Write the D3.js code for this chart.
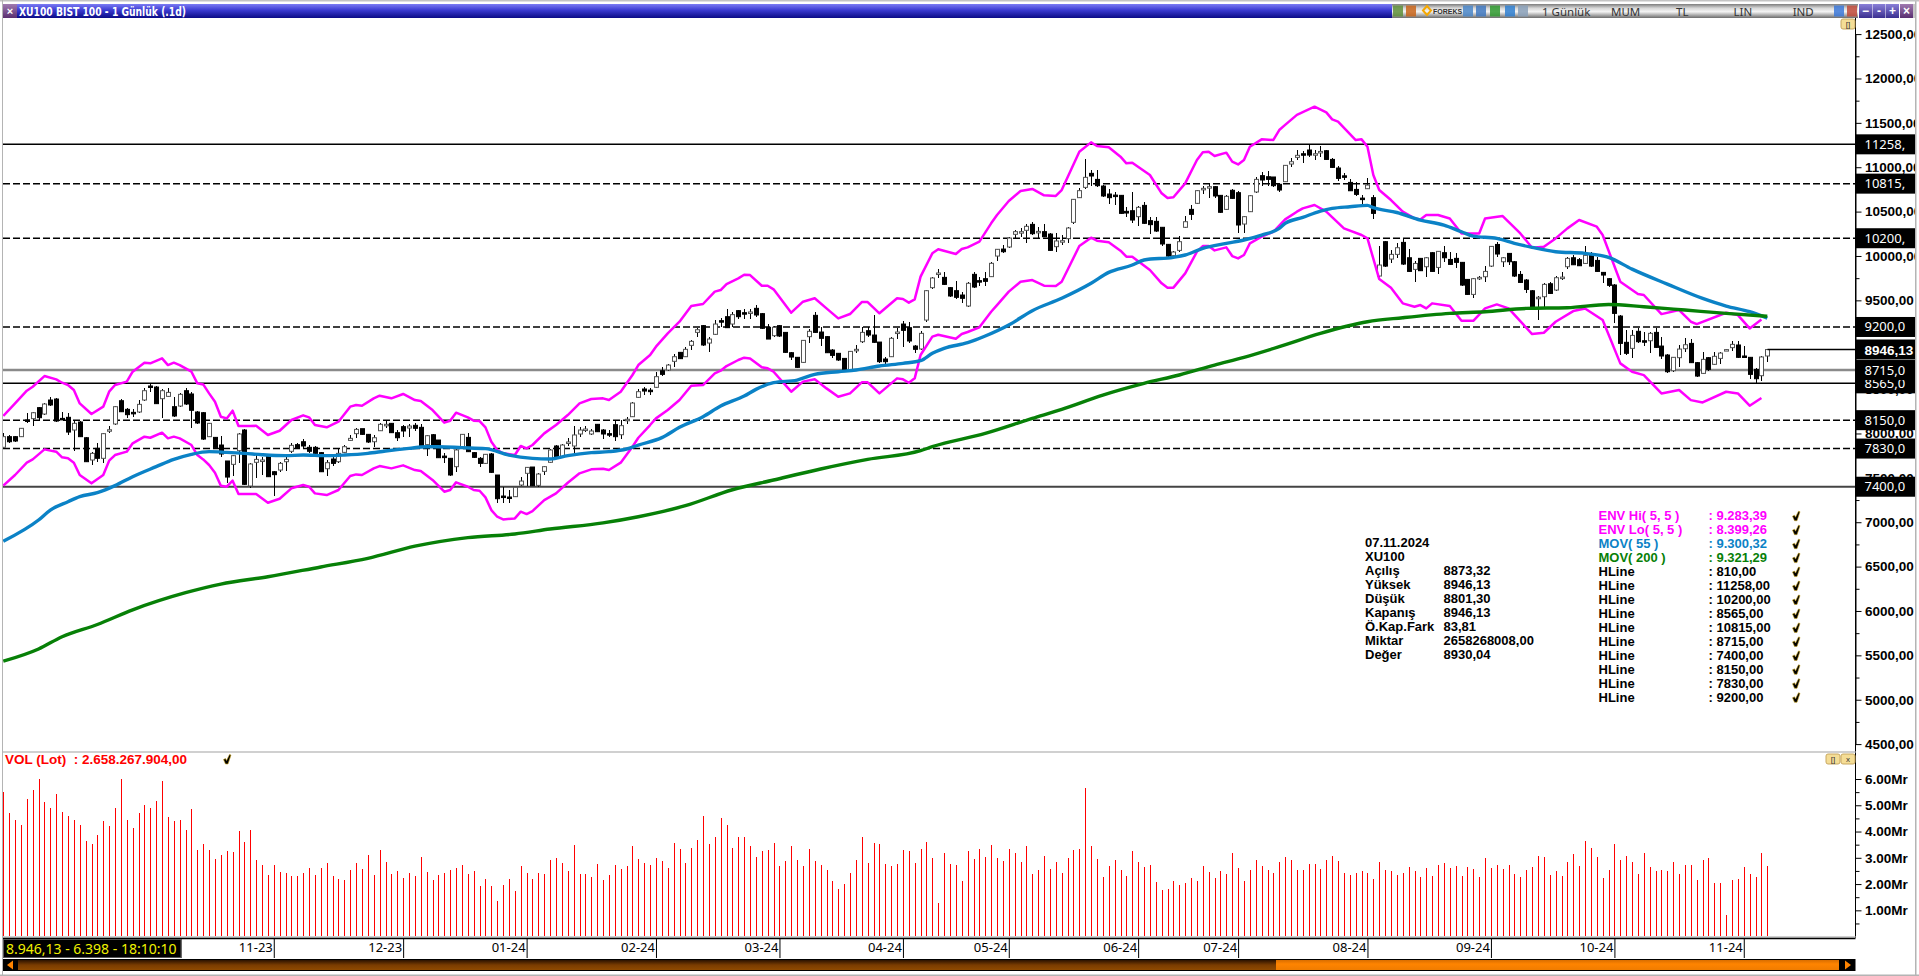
<!DOCTYPE html>
<html>
<head>
<meta charset="utf-8">
<title>XU100</title>
<script src="https://cdn.jsdelivr.net/npm/d3@7"></script>
<style>
html, body { margin: 0; padding: 0; background: #fff; overflow: hidden; }
svg { display: block; }
text { font-family: "Liberation Sans", Arial, sans-serif; }
.thin { font-family: "Noto Sans", sans-serif; }
</style>
</head>
<body>
<svg width="1919" height="976"></svg>
<script>
// daily candles, index 0 = first bar on the left, 300 = 07.11.2024
const opens = [
7844,7964,7964,7964,8152,8167,8291,8219,8377,8388,8170,8182,8039,8129,7952,7701,7832,7720,8035,8107,
8369,8272,8238,8242,8377,8535,8523,8392,8418,8302,8309,8482,8445,8242,8234,7964,7956,7870,7690,7652,
7806,8039,7408,7675,7690,7757,7569,7588,7682,7799,7874,7907,7844,7844,7784,7603,7712,7682,7787,7922,
7998,8054,7990,7907,8031,8095,8114,8009,8077,8061,8092,8069,7874,7986,7926,7745,7720,7626,7832,7956,
7784,7720,7663,7769,7532,7295,7284,7288,7419,7551,7622,7415,7573,7675,7859,7738,7896,7859,7994,8042,
7994,8103,8039,7998,8099,7986,8150,8189,8407,
8501,8488,8520,8707,8715,8813,8914,8865,8993,9139,9215,9019,9117,9271,9316,9233,9384,9361,9363,9410,
9350,9196,9102,9215,9139,8910,8858,8801,9091,9331,9143,9091,8940,8903,8846,8715,8945,9034,9158,9109,
9030,8839,8865,9139,9233,9192,8985,8952,9278,9643,9805,9759,9643,9609,9560,9436,9793,9722,9744,9767,
9999,10078,10101,10244,10270,10289,10356,10277,10274,10247,10105,10168,10195,10379,10657,10773,10931,10863,10788,10698,
10686,10683,10503,10510,10443,10570,10398,10390,10323,10131,10003,10063,10323,10525,10593,10762,10776,10781,10683,10525,
10740,10713,10360,10499,10721,10905,10893,10890,10807,
10837,11036,11111,11152,11194,11150,11178,11186,11088,10991,10903,10829,10750,10652,10758,10657,
9774,10161,9965,10018,10153,9980,9849,9973,9879,10037,9871,10037,9961,9973,9928,9736,9567,9755,9766,9886,
10130,9935,10029,9935,9792,9729,9608,9525,9541,9687,9616,9757,9879,9980,9958,9916,10010,9950,9815,9744,
9673,9323,9027,8959,9151,9045,9045,9139,8985,8884,8707,8854,8955,9015,8798,8677,8854,8779,8846,8942,
8967,8997,8873,8858,8722,8651,8873];
const highs = [
8001,7983,7971,8065,8234,8245,8302,8347,8407,8396,8245,8234,8140,8140,7955,7795,7889,8001,8084,8309,
8384,8291,8272,8377,8508,8565,8535,8497,8516,8414,8459,8516,8471,8249,8245,8122,7964,7971,7693,7757,
8009,8046,7671,7757,7738,7765,7577,7682,7731,7889,7889,7934,7870,7859,7786,7701,7738,7832,7866,7983,
8065,8056,7992,7983,8122,8152,8122,8039,8092,8107,8114,8107,7983,7990,7930,7784,7727,7821,7994,8009,
7791,7738,7772,7776,7535,7400,7363,7400,7506,7626,7626,7551,7633,7821,7866,7877,7945,8084,8069,8084,
8046,8107,8046,8039,8152,8152,8182,8351,8497,
8527,8508,8696,8753,8779,8892,8922,8978,9053,9184,9222,9091,9278,9297,9399,9372,9391,9399,9399,9447,
9354,9233,9211,9222,9147,8922,8865,9057,9173,9369,9203,9098,8948,8905,8854,8933,8997,9196,9203,9335,
9034,8865,9083,9184,9263,9260,8997,9158,9616,9759,9849,9823,9654,9714,9598,9707,9823,9759,9823,9936,
10082,10123,10217,10293,10311,10360,10379,10323,10360,10255,10262,10236,10323,10646,10762,11089,10969,10969,10796,10751,
10721,10691,10548,10724,10563,10608,10435,10443,10330,10139,10060,10225,10450,10574,10743,10788,10818,10788,10691,10687,
10751,10736,10450,10687,10886,10950,10961,10893,10818,
11025,11100,11194,11186,11250,11194,11242,11190,11100,11013,10938,10863,10829,10687,10874,10683,
10112,10168,10067,10149,10187,10074,9946,9980,9992,10044,10059,10112,10048,10029,9935,9744,9751,9774,9886,10115,
10153,9992,10037,9943,9834,9740,9616,9548,9691,9710,9774,9822,9984,10010,9976,10112,10048,9992,9822,9755,
9684,9335,9166,9166,9192,9147,9147,9184,9083,8891,8865,8997,9072,9060,8805,8914,8865,8914,8921,8951,
9045,9045,8989,8860,8734,8873,8946];
const lows = [
7832,7896,7907,7960,8114,8084,8140,8208,8309,8133,8152,7983,7802,7956,7680,7645,7675,7663,8009,8099,
8238,8174,8189,8234,8369,8467,8332,8178,8407,8189,8302,8321,8058,8107,7930,7956,7832,7731,7445,7521,
7663,7419,7389,7502,7532,7506,7295,7569,7577,7776,7821,7832,7776,7738,7566,7521,7637,7671,7776,7915,
7945,7986,7896,7844,8024,8058,8001,7915,7956,7964,8031,7851,7750,7859,7723,7663,7524,7569,7825,7787,
7720,7618,7656,7558,7213,7220,7213,7280,7412,7412,7408,7393,7536,7667,7723,7731,7859,7769,7964,8016,
7986,8012,7937,7956,7919,7941,8107,8182,8396,
8433,8433,8512,8647,8707,8753,8835,8858,8940,9091,8989,8922,9109,9203,9184,9196,9290,9290,9290,9316,
9177,9061,9091,9091,8910,8828,8734,8794,9023,9128,8989,8903,8846,8820,8708,8708,8910,9023,9083,9023,
8798,8771,8858,9060,8978,9015,8903,8940,9252,9631,9755,9673,9541,9511,9474,9421,9643,9661,9661,9759,
9940,10037,10090,10187,10217,10150,10240,10187,10210,10056,10041,10123,10150,10360,10649,10751,10788,10781,10661,10586,
10574,10473,10443,10368,10338,10360,10244,10274,10112,9992,9962,10045,10311,10405,10585,10698,10649,10649,10484,10518,
10642,10255,10255,10492,10713,10788,10788,10781,10724,
10830,10998,11081,11051,11111,11081,11119,11081,10991,10844,10856,10728,10675,10585,10750,10412,
9729,9879,9916,9973,9898,9819,9710,9826,9766,9819,9796,9935,9898,9860,9661,9556,9526,9729,9710,9879,
9992,9879,9898,9766,9699,9586,9409,9278,9421,9571,9608,9729,9856,9894,9883,9909,9879,9819,9699,9653,
9241,8884,8884,8846,9015,8985,8903,8959,8843,8685,8696,8745,8921,8790,8640,8670,8707,8771,8783,8929,
8933,8850,8854,8613,8572,8591,8801];
const closes = [
7964,7907,7915,8058,8140,8234,8178,8332,8321,8140,8160,8016,8114,7964,7682,7776,7720,7998,8042,8302,
8245,8212,8227,8328,8482,8520,8336,8482,8463,8197,8441,8332,8261,8118,7937,8114,7840,7769,7509,7750,
7994,7427,7656,7708,7701,7513,7536,7663,7708,7866,7840,7859,7799,7776,7569,7671,7663,7776,7851,7945,
8046,7990,7904,7952,8103,8103,8009,7952,8028,8084,8058,7862,7975,7870,7727,7738,7532,7814,7990,7795,
7731,7663,7765,7562,7265,7288,7276,7393,7464,7618,7412,7543,7626,7814,7731,7870,7904,7983,8039,8050,
8028,8020,7994,7990,7964,8088,8160,8343,8471,
8478,8482,8640,8666,8771,8865,8843,8948,9038,9169,8997,9064,9233,9256,9192,9339,9316,9357,9369,9335,
9185,9064,9196,9098,8914,8861,8745,9049,9151,9139,9072,8910,8880,8828,8715,8925,8948,9139,9109,9027,
8809,8809,9072,9143,9162,9042,8948,9128,9609,9752,9808,9680,9549,9534,9523,9692,9650,9718,9714,9917,
10075,10048,10202,10274,10274,10334,10251,10277,10217,10063,10169,10172,10315,10638,10736,10886,10901,10792,10676,10657,
10683,10480,10484,10405,10548,10368,10353,10281,10135,9999,10045,10161,10386,10469,10736,10762,10781,10676,10492,10672,
10649,10349,10443,10679,10863,10856,10863,10792,10743,
11021,11062,11134,11137,11137,11152,11178,11088,10998,10874,10901,10735,10694,10649,10799,10480,
9898,9886,10018,10093,9909,9826,9916,9834,9980,9826,10052,9980,9905,9928,9672,9567,9744,9759,9826,10108,
10022,9980,9935,9774,9702,9623,9421,9535,9680,9578,9755,9762,9973,9901,9890,10007,9886,9826,9785,9669,
9353,9015,8903,9105,9034,9042,9128,8970,8873,8696,8858,8951,9000,8798,8647,8835,8722,8869,8906,8945,
9004,8858,8861,8666,8617,8862,8946];

// volume in Mr, one per bar
const volumes = [
5.52,4.72,4.45,4.26,5.24,5.58,6.00,5.14,4.91,5.43,4.76,4.60,4.45,4.26,3.65,3.54,3.88,4.41,4.22,4.91,
6.00,4.45,4.15,4.72,5.02,4.91,5.17,5.94,4.57,4.41,4.45,4.07,4.87,3.31,3.54,3.31,2.97,3.12,3.27,3.23,
4.03,3.61,4.07,2.93,2.74,2.36,2.74,2.47,2.43,2.32,2.32,2.43,2.62,2.36,2.62,2.81,2.32,2.20,2.17,2.55,
2.81,2.58,3.12,2.36,3.31,2.85,2.40,2.51,2.24,2.43,2.32,3.04,2.47,2.17,2.36,2.43,2.55,2.62,2.74,2.40,
2.51,1.94,2.20,1.94,1.35,1.98,2.20,1.75,2.70,2.43,2.20,2.43,2.40,2.93,3.00,2.81,2.51,3.50,2.40,2.40,
2.28,2.78,2.17,2.36,2.74,2.58,2.70,3.46,2.97,
2.80,2.72,2.99,2.87,2.61,3.56,3.33,2.80,3.37,3.67,4.59,3.52,3.79,4.51,4.25,3.37,3.79,3.79,3.45,3.03,
3.26,3.29,3.56,2.68,2.87,3.45,2.91,2.68,3.33,2.87,2.72,2.53,2.11,1.81,2.00,2.42,2.91,3.79,2.80,3.56,
3.52,2.76,2.68,2.76,3.29,3.26,2.80,3.33,3.60,2.99,1.28,3.18,2.76,2.72,2.11,3.26,2.95,3.33,3.03,3.48,
2.99,2.87,3.33,3.18,2.84,3.45,2.38,2.53,3.07,2.57,2.84,2.42,2.99,3.29,3.33,5.65,3.45,2.95,2.27,2.68,
2.91,2.53,2.30,3.26,2.84,2.65,2.72,2.08,1.77,1.81,2.11,1.96,2.04,2.23,2.11,2.68,2.46,2.23,2.49,2.38,
3.18,2.61,2.11,2.53,2.91,2.68,2.53,2.42,2.84,
3.03,2.91,2.53,2.53,2.76,2.76,2.57,2.91,3.07,2.87,2.42,2.34,2.42,2.49,2.42,2.19,2.84,2.53,2.49,2.34,
2.42,2.65,2.49,2.27,2.61,2.30,2.72,2.80,2.61,2.68,2.30,2.65,2.57,2.27,2.99,2.61,2.72,2.57,2.72,2.38,
2.27,2.53,2.65,3.07,3.03,2.34,2.49,2.30,2.84,3.14,2.68,3.64,3.37,3.03,2.23,2.53,3.52,2.91,3.07,2.84,
2.38,3.18,2.65,2.49,2.53,2.49,2.84,2.38,2.72,2.72,2.15,2.91,2.99,2.04,2.04,0.82,2.15,2.19,2.65,2.38,
2.27,3.18,2.68];

// indicator lines, [bar index, value]
const envHi = [[0,8197],[2,8339],[4,8482],[5,8527],[7,8647],[9,8610],[10,8572],[11,8546],[12,8490],[13,8339],[15,8219],[17,8302],[18,8471],[19,8546],[21,8584],[22,8696],[24,8798],[25,8790],[27,8846],[28,8771],[29,8798],[30,8771],[32,8696],[33,8565],[34,8553],[35,8452],[36,8358],[37,8189],[38,8170],[39,8257],[40,8084],[42,8084],[43,8088],[45,7983],[47,8031],[49,8152],[51,8204],[52,8182],[53,8095],[55,8069],[57,8133],[59,8302],[60,8321],[61,8313],[63,8396],[64,8426],[66,8396],[68,8445],[70,8377],[71,8366],[73,8264],[75,8122],[76,8144],[77,8234],[79,8182],[80,8144],[81,8140],[82,8069],[83,7907],[84,7814],[85,7776],[87,7757],[88,7859],[89,7832],[90,7870],[92,8001],[94,8095],[96,8208],[98,8339],[100,8388],[102,8396],[103,8377],[105,8471],[107,8659],[108,8771],
[110,8884],[111,8978],[113,9128],[115,9260],[117,9436],[119,9459],[121,9598],[122,9616],[123,9684],[125,9748],[126,9789],[127,9785],[129,9665],[130,9665],[131,9624],[134,9361],[136,9485],[138,9523],[140,9410],[142,9297],[144,9346],[146,9481],[147,9481],[149,9354],[152,9523],[153,9515],[154,9474],[155,9511],[156,9767],[158,10030],[159,10075],[162,10022],[163,10078],[164,10097],[166,10161],[168,10368],[169,10462],[171,10619],[173,10732],[175,10755],[177,10683],[179,10676],[180,10743],[183,11175],[185,11280],[186,11239],[188,11224],[190,11119],[191,11044],[192,11051],[195,10912],[197,10706],[198,10653],[199,10661],[201,10818],[203,11081],[204,11168],[205,11175],[206,11126],[208,11164],[209,11063],[210,11032],[211,11081],[212,11231],[214,11314],[216,11307],[217,11419],
[218,11477],[220,11590],[221,11620],[223,11682],[225,11618],[226,11539],[227,11513],[230,11306],[231,11314],[232,11231],[233,10912],[234,10743],[236,10630],[238,10499],[240,10423],[241,10412],[242,10461],[244,10461],[246,10423],[248,10254],[251,10254],[252,10423],[255,10450],[258,10254],[260,10093],[262,10104],[264,10198],[266,10311],[268,10405],[271,10330],[272,10236],[275,9710],[278,9571],[279,9560],[282,9345],[285,9391],[287,9259],[288,9233],[293,9360],[295,9334],[297,9184],[299,9283]];
const envLo = [[0,7412],[2,7532],[4,7671],[5,7708],[7,7821],[9,7795],[10,7731],[11,7720],[12,7671],[13,7532],[15,7438],[17,7532],[18,7693],[19,7757],[21,7795],[22,7889],[24,7964],[25,7952],[27,8009],[28,7945],[29,7964],[30,7945],[32,7870],[33,7757],[34,7708],[35,7645],[36,7558],[37,7412],[38,7400],[39,7468],[40,7318],[42,7318],[43,7318],[45,7220],[47,7265],[49,7382],[51,7419],[52,7400],[53,7325],[55,7306],[57,7363],[59,7521],[60,7539],[61,7532],[63,7607],[64,7633],[66,7607],[68,7641],[70,7588],[71,7577],[73,7476],[75,7344],[76,7363],[77,7449],[79,7400],[80,7363],[81,7355],[82,7280],[83,7137],[84,7062],[85,7032],[87,7043],[88,7119],[89,7092],[90,7126],[92,7250],[94,7325],[96,7445],[98,7551],[100,7596],[102,7603],[103,7588],[105,7671],[107,7851],[108,7952],
[110,8095],[111,8170],[113,8264],[115,8377],[117,8538],[119,8546],[121,8677],[122,8707],[123,8760],[125,8828],[126,8854],[127,8846],[129,8745],[130,8734],[131,8696],[134,8471],[136,8584],[138,8610],[140,8508],[142,8414],[144,8452],[146,8576],[147,8576],[149,8452],[152,8621],[153,8610],[154,8572],[155,8621],[156,8884],[158,9091],[159,9113],[162,9068],[163,9121],[164,9143],[166,9196],[168,9372],[169,9447],[171,9598],[173,9710],[175,9729],[177,9665],[179,9662],[180,9710],[183,10112],[185,10206],[186,10172],[188,10154],[190,10060],[191,9992],[192,9992],[195,9842],[197,9692],[198,9643],[199,9643],[201,9804],[203,10048],[204,10112],[205,10112],[206,10063],[208,10097],[209,9999],[210,9973],[211,10011],[212,10142],[214,10217],[216,10273],
[218,10412],[220,10499],[221,10536],[223,10574],[225,10499],[228,10311],[231,10236],[232,10198],[234,9740],[236,9642],[238,9466],[240,9428],[241,9447],[242,9409],[243,9466],[246,9436],[248,9270],[250,9270],[252,9409],[254,9454],[256,9409],[260,9120],[262,9135],[264,9259],[267,9379],[269,9409],[272,9278],[275,8790],[277,8696],[279,8658],[282,8451],[285,8489],[287,8376],[289,8350],[293,8470],[295,8451],[297,8313],[299,8399]];
const mov55 = [[0,6786],[6,7025],[8,7137],[11,7231],[13,7288],[16,7333],[19,7412],[22,7513],[26,7626],[29,7708],[32,7765],[35,7795],[38,7787],[41,7776],[44,7761],[48,7750],[51,7757],[55,7750],[58,7757],[62,7776],[65,7802],[69,7832],[72,7851],[74,7851],[78,7840],[82,7829],[86,7757],[90,7720],[93,7712],[96,7750],[100,7784],[103,7795],[106,7825],[108,7870],
[112,7953],[115,8069],[119,8189],[122,8309],[126,8422],[128,8497],[131,8572],[135,8602],[138,8666],[142,8696],[145,8715],[149,8760],[153,8790],[156,8820],[158,8903],[160,8959],[164,9023],[167,9098],[171,9222],[175,9384],[180,9523],[185,9692],[188,9815],[192,9898],[194,9955],[199,9985],[201,10011],[204,10086],[208,10142],[211,10180],[214,10236],[217,10311],
[218,10367],[221,10435],[224,10506],[226,10536],[229,10555],[232,10570],[233,10544],[237,10490],[241,10405],[245,10348],[248,10273],[250,10224],[254,10198],[257,10142],[260,10097],[264,10048],[269,10029],[273,9984],[277,9852],[283,9683],[289,9522],[293,9436],[297,9372],[300,9300]];
const mov200 = [[0,5434],[6,5572],[10,5710],[16,5848],[22,6013],[31,6206],[37,6303],[45,6386],[54,6496],[62,6593],[70,6730],[79,6827],[87,6868],[93,6923],[102,6993],[108,7062],[116,7186],[124,7366],[131,7476],[139,7600],[147,7708],[156,7806],[158,7851],[167,8001],[175,8170],[180,8272],[187,8433],[194,8565],[200,8659],[206,8771],[211,8858],[217,8978],[224,9128],[232,9259],[238,9304],[246,9353],[252,9372],[259,9409],[266,9417],[273,9454],[279,9428],[286,9391],[293,9353],[300,9321]];

const hlineValues = [11258, 10200, 8565, 10815, 8715, 7400, 8150, 7830, 9200];
const hlineLabels = ["11258,", "10200,", "8565,0", "10815,", "8715,0", "7400,0", "8150,0", "7830,0", "9200,0"];
const hlineKinds = ["solid", "dash", "solid", "dash", "gray", "dark", "dash", "dash", "dash"];

const priceTicks = d3.range(4500, 12501, 500);
const priceMinor = d3.range(4750, 12500, 500);
const volTicks = [1, 2, 3, 4, 5, 6];
const volMinor = [0.5, 1.5, 2.5, 3.5, 4.5, 5.5];
const monthBars = [46, 68, 89, 111, 132, 153, 171, 193, 210, 232, 253, 274, 296];
const monthLabels = ["11-23", "12-23", "01-24", "02-24", "03-24", "04-24", "05-24", "06-24", "07-24", "08-24", "09-24", "10-24", "11-24"];

const infoLabels = ["07.11.2024", "XU100", "Açılış", "Yüksek", "Düşük", "Kapanış", "Ö.Kap.Fark", "Miktar", "Değer"];
const infoValues = ["", "", "8873,32", "8946,13", "8801,30", "8946,13", "83,81", "2658268008,00", "8930,04"];
const legendLabels = ["ENV Hi( 5, 5 )", "ENV Lo( 5, 5 )", "MOV( 55 )", "MOV( 200 )", "HLine", "HLine", "HLine", "HLine", "HLine", "HLine", "HLine", "HLine", "HLine", "HLine"];
const legendValues = [": 9.283,39", ": 8.399,26", ": 9.300,32", ": 9.321,29", ": 810,00", ": 11258,00", ": 10200,00", ": 8565,00", ": 10815,00", ": 8715,00", ": 7400,00", ": 8150,00", ": 7830,00", ": 9200,00"];

const envColor = "#ff00ff", mov55Color = "#0b82c6", mov200Color = "#078007";
const legendColors = [envColor, envColor, mov55Color, mov200Color];

const axisX = 1855.5;
const svg = d3.select("svg");

// scales
const x = d3.scaleLinear().domain([0, 300]).range([3.3, 1767.3]);
const y = d3.scaleLinear().domain([4500, 12500]).range([744.1, 34.1]);
const yVol = d3.scaleLinear().domain([0, 6]).range([936.6, 779]);
const bx = i => Math.round(x(i)) + 0.5;

// gradients
const defs = svg.append("defs");
function gradient(id, stops) {
    const g = defs.append("linearGradient").attr("id", id).attr("x1", 0).attr("x2", 0).attr("y1", 0).attr("y2", 1);
    stops.forEach(s => g.append("stop").attr("offset", s[0]).attr("stop-color", s[1]));
}
gradient("titleGrad", [[0, "#7c7cf4"], [0.45, "#3a3ad0"], [1, "#0b0b86"]]);
gradient("toolGrad", [[0, "#7d7d7d"], [0.3, "#d8d8d8"], [0.55, "#f4f4f4"], [1, "#6c6c6c"]]);
gradient("btnGrad", [[0, "#8a80d8"], [1, "#3a2f90"]]);
gradient("closeGrad", [[0, "#a07ab0"], [1, "#5a2f70"]]);
gradient("brownGrad", [[0, "#2c1300"], [0.5, "#7a3c00"], [1, "#8f4a00"]]);
gradient("orangeGrad", [[0, "#d96e00"], [0.4, "#ff8400"], [1, "#f07c00"]]);

svg.append("clipPath").attr("id", "paneClip").append("rect")
    .attr("x", 3).attr("y", 18).attr("width", axisX - 3).attr("height", 733);

// horizontal levels go under the candles
const chart = svg.append("g").attr("clip-path", "url(#paneClip)");
const lineStyle = {
    solid: {c: "#000", w: 1.5, d: null},
    dash: {c: "#000", w: 1.5, d: "7,3"},
    gray: {c: "#8a8a8a", w: 2.5, d: null},
    dark: {c: "#444", w: 2, d: null}
};
hlineValues.forEach((v, k) => {
    const st = lineStyle[hlineKinds[k]];
    chart.append("line")
        .attr("x1", 3).attr("x2", axisX)
        .attr("y1", y(v)).attr("y2", y(v))
        .attr("stroke", st.c).attr("stroke-width", st.w)
        .attr("stroke-dasharray", st.d);
});

// candles
const idx = d3.range(opens.length);
chart.selectAll(".wick").data(idx).enter().append("line")
    .attr("class", "wick")
    .attr("x1", d => bx(d)).attr("x2", d => bx(d))
    .attr("y1", d => y(highs[d])).attr("y2", d => y(lows[d]))
    .attr("stroke", "#000").attr("stroke-width", 1)
    .attr("shape-rendering", "crispEdges");
chart.selectAll(".body").data(idx).enter().append("rect")
    .attr("class", "body")
    .attr("x", d => bx(d) - 2)
    .attr("width", 4)
    .attr("y", d => y(Math.max(opens[d], closes[d])))
    .attr("height", d => Math.max(1.5, Math.abs(y(opens[d]) - y(closes[d]))))
    .attr("fill", d => closes[d] >= opens[d] ? "#fff" : "#000")
    .attr("stroke", d => closes[d] >= opens[d] ? "#555" : "#000")
    .attr("stroke-width", 1);

// indicators, the moving averages are smooth on the screen
const line = d3.line().x(d => x(d[0])).y(d => y(d[1]));
const smooth = d3.line().x(d => x(d[0])).y(d => y(d[1])).curve(d3.curveMonotoneX);
[[line, envHi, envColor, 2.5], [line, envLo, envColor, 2.5], [smooth, mov55, mov55Color, 3.4], [smooth, mov200, mov200Color, 3.4]].forEach(s => {
    chart.append("path")
        .attr("d", s[0](s[1]))
        .attr("fill", "none")
        .attr("stroke", s[2])
        .attr("stroke-width", s[3])
        .attr("stroke-linejoin", "round");
});

// last price marker
chart.append("line")
    .attr("x1", bx(300)).attr("x2", axisX)
    .attr("y1", y(closes[300])).attr("y2", y(closes[300]))
    .attr("stroke", "#000").attr("stroke-width", 1.5);

// volume bars
svg.selectAll(".vol").data(idx).enter().append("line")
    .attr("class", "vol")
    .attr("x1", d => bx(d)).attr("x2", d => bx(d))
    .attr("y1", yVol(0)).attr("y2", d => yVol(volumes[d]))
    .attr("stroke", "#ff0000").attr("stroke-width", 1)
    .attr("shape-rendering", "crispEdges");

// right axes
function styleAxis(g) {
    g.selectAll("path.domain").attr("stroke", "#000").attr("stroke-width", 1);
    g.selectAll(".tick line").attr("stroke", "#000").attr("stroke-width", 1);
    g.selectAll(".tick text")
        .attr("x", 9.5)
        .attr("fill", "#000")
        .style("font-size", "13.5px")
        .style("font-weight", "bold");
}
svg.append("g").attr("transform", "translate(" + axisX + ",0)")
    .call(d3.axisRight(y).tickValues(priceTicks).tickSize(6).tickSizeOuter(0).tickFormat(d => d + ",00"))
    .call(g => g.select("path.domain").attr("d", "M0,14V751"))
    .call(styleAxis);
svg.append("g").attr("transform", "translate(" + axisX + ",0)")
    .call(d3.axisRight(y).tickValues(priceMinor).tickSize(4).tickSizeOuter(0).tickFormat(""))
    .call(styleAxis);
svg.append("g").attr("transform", "translate(" + axisX + ",0)")
    .call(d3.axisRight(yVol).tickValues(volTicks).tickSize(6).tickSizeOuter(0).tickFormat(d => d3.format(".2f")(d) + "Mr"))
    .call(g => g.select("path.domain").attr("d", "M0,751V938"))
    .call(styleAxis);
svg.append("g").attr("transform", "translate(" + axisX + ",0)")
    .call(d3.axisRight(yVol).tickValues(volMinor).tickSize(4).tickSizeOuter(0).tickFormat(""))
    .call(g => g.select("path.domain").remove())
    .call(styleAxis);

// black level boxes on the axis, later ones cover earlier ones
hlineValues.forEach((v, k) => {
    svg.append("rect").attr("x", axisX).attr("y", y(v) - 10).attr("width", 60).attr("height", 20).attr("fill", "#000");
    svg.append("text").attr("class", "thin")
        .attr("x", 1864.5).attr("y", y(v) + 4.5)
        .attr("fill", "#fff").attr("font-size", 13)
        .text(hlineLabels[k]);
});
svg.append("rect").attr("x", axisX).attr("y", y(closes[300]) - 10).attr("width", 60).attr("height", 20).attr("fill", "#000");
svg.append("text")
    .attr("x", 1864.5).attr("y", y(closes[300]) + 5)
    .attr("fill", "#fff").attr("font-size", 13.5).attr("font-weight", "bold")
    .text("8946,13");

// info block
const infoY = d3.scaleLinear().domain([0, 8]).range([543.3, 655.3]);
const info = svg.append("g").attr("font-size", 13).attr("font-weight", "bold").attr("fill", "#000");
infoLabels.forEach((t, k) => {
    info.append("text").attr("x", 1365).attr("y", infoY(k) + 4).text(t);
    info.append("text").attr("x", 1443.5).attr("y", infoY(k) + 4).text(infoValues[k]);
});

// check mark used in the legend rows
const tickPath = "M-3.5,0.5 L-1.5,-0.5 L-0.5,1.5 L2.5,-4.5 L4,-4 L1,5 L-1.5,5 Z";
function check(px, py) {
    svg.append("path").attr("d", tickPath)
        .attr("transform", "translate(" + px + "," + py + ")")
        .attr("fill", "#000").attr("stroke", "#c9a21a").attr("stroke-width", 0.6);
}

// legend block
const legendY = d3.scaleLinear().domain([0, 13]).range([515.7, 697.3]);
const legend = svg.append("g").attr("font-size", 13).attr("font-weight", "bold");
legendLabels.forEach((t, k) => {
    const c = legendColors[k] || "#000";
    legend.append("text").attr("x", 1598.5).attr("y", legendY(k) + 4.5).attr("fill", c).text(t);
    legend.append("text").attr("x", 1708.5).attr("y", legendY(k) + 4.5).attr("fill", c).text(legendValues[k]);
    check(1796, legendY(k));
});

// volume title
svg.append("text").attr("x", 5).attr("y", 764)
    .attr("fill", "#ff0000").attr("font-size", 13.5).attr("font-weight", "bold")
    .attr("xml:space", "preserve").style("white-space", "pre")
    .text("VOL (Lot)  : 2.658.267.904,00");
check(227, 759);

// pane separators
svg.append("rect").attr("x", 3).attr("y", 751).attr("width", axisX - 3).attr("height", 2).attr("fill", "#d0d0d0");
svg.append("rect").attr("x", 3).attr("y", 936).attr("width", axisX - 3).attr("height", 2).attr("fill", "#d0d0d0");

// date axis
const dateAxis = svg.append("g").attr("transform", "translate(0,938)")
    .call(d3.axisBottom(x).tickValues(monthBars).tickSize(20).tickSizeOuter(0).tickFormat((d, k) => monthLabels[k]));
dateAxis.select("path.domain").attr("d", "M3,0.5H" + axisX).attr("stroke", "#000").attr("stroke-width", 1.5);
dateAxis.selectAll(".tick line").attr("stroke", "#000");
dateAxis.selectAll(".tick text")
    .attr("class", "thin")
    .attr("text-anchor", "end")
    .attr("x", -1.5).attr("y", 14).attr("dy", 0)
    .attr("fill", "#000")
    .style("font-size", "13px");

// live quote box
svg.append("rect").attr("x", 3).attr("y", 939).attr("width", 178.5).attr("height", 19).attr("fill", "#000");
svg.append("rect").attr("x", 3.5).attr("y", 939.5).attr("width", 177.5).attr("height", 18).attr("fill", "none").attr("stroke", "#555");
svg.append("text").attr("class", "thin").attr("x", 6).attr("y", 953.5)
    .attr("fill", "#f0f000").attr("font-size", 14)
    .text("8.946,13 - 6.398 - 18:10:10");

// scroll bar
svg.append("rect").attr("x", 3).attr("y", 959).attr("width", axisX - 3).attr("height", 12).attr("fill", "#000");
svg.append("rect").attr("x", 18).attr("y", 960).attr("width", 1258).attr("height", 10).attr("fill", "url(#brownGrad)");
svg.append("rect").attr("x", 1276).attr("y", 960).attr("width", 563).attr("height", 10).attr("fill", "url(#orangeGrad)");
svg.append("path").attr("d", "M7,965 L13,960.5 L13,969.5 Z").attr("fill", "#ff8400");
svg.append("path").attr("d", "M1845,960.5 L1851,965 L1845,969.5 Z").attr("fill", "#ff8400");

// title bar
svg.append("rect").attr("x", 2).attr("y", 4).attr("width", 1392).attr("height", 14).attr("fill", "url(#titleGrad)");
svg.append("rect").attr("x", 3).attr("y", 4).attr("width", 14).attr("height", 14).attr("fill", "url(#closeGrad)");
svg.append("text").attr("x", 10).attr("y", 15).attr("text-anchor", "middle").attr("fill", "#fff").attr("font-size", 11).attr("font-weight", "bold").text("×");
svg.append("text").attr("x", 19).attr("y", 15.5)
    .attr("fill", "#fff").attr("font-size", 12).attr("font-weight", "bold")
    .style("font-family", '"DejaVu Sans", sans-serif')
    .attr("textLength", 167).attr("lengthAdjust", "spacingAndGlyphs")
    .text("XU100 BIST 100 - 1 Günlük (.1d)");

// tool strip
svg.append("rect").attr("x", 1392).attr("y", 4).attr("width", 466).attr("height", 14).attr("fill", "url(#toolGrad)");
const toolX = [1542, 1611, 1676, 1733.5, 1792.7];
const toolText = ["1 Günlük", "MUM", "TL", "LIN", "IND"];
toolText.forEach((t, k) => {
    svg.append("text").attr("class", "thin").attr("x", toolX[k]).attr("y", 15.5)
        .attr("fill", "#333").attr("font-size", 11.5).text(t);
});
const iconX = [1393, 1406, 1463, 1476, 1490, 1505, 1518, 1834, 1847];
const iconColor = ["#5f8f3a", "#c9651a", "#4a86c8", "#3f78c0", "#2f9a2f", "#2f7fd0", "#8aa0b8", "#3c78d8", "#c04a3a"];
iconX.forEach((ix, k) => {
    svg.append("rect").attr("x", ix).attr("y", 5.5).attr("width", 10).attr("height", 11)
        .attr("fill", iconColor[k]).attr("opacity", 0.85);
});
svg.append("path").attr("d", "M1423,10.5 L1427,6 L1431,10.5 L1427,15 Z").attr("fill", "none").attr("stroke", "#f5a800").attr("stroke-width", 2);
svg.append("text").attr("x", 1433).attr("y", 14).attr("fill", "#333").attr("font-size", 7).attr("font-weight", "bold").text("FOREKS");

// window buttons
const btnX = [1859, 1872.5, 1886, 1900];
const btnGlyph = ["−", "-", "+", "×"];
btnX.forEach((bxx, k) => {
    svg.append("rect").attr("x", bxx).attr("y", 4).attr("width", 13).attr("height", 14)
        .attr("fill", k === 3 ? "url(#closeGrad)" : "url(#btnGrad)");
    svg.append("text").attr("x", bxx + 6.5).attr("y", 15).attr("text-anchor", "middle")
        .attr("fill", "#fff").attr("font-size", 12).attr("font-weight", "bold").text(btnGlyph[k]);
});
svg.append("rect").attr("x", 1913).attr("y", 4).attr("width", 3).attr("height", 14).attr("fill", "#c8c8c8");

// small yellow pane buttons
function paneButton(px, py, label) {
    svg.append("rect").attr("x", px).attr("y", py).attr("width", 14).attr("height", 10).attr("rx", 2)
        .attr("fill", "#f5dd96").attr("stroke", "#c8a860");
    svg.append("text").attr("x", px + 7).attr("y", py + 8).attr("text-anchor", "middle")
        .attr("fill", "#333").attr("font-size", 8).text(label);
}
paneButton(1841, 19, "[]");
paneButton(1826, 754, "[]");
paneButton(1841, 754, "x");

// window frame, also trims the axis labels on the right
svg.append("rect").attr("x", 1915).attr("y", 0).attr("width", 4).attr("height", 976).attr("fill", "#fff");
svg.append("rect").attr("x", 1915).attr("y", 0).attr("width", 1.5).attr("height", 976).attr("fill", "#b4b4b4");
svg.append("rect").attr("x", 0).attr("y", 0).attr("width", 1919).attr("height", 1.5).attr("fill", "#c4c4c4");
svg.append("rect").attr("x", 2).attr("y", 0).attr("width", 1).attr("height", 976).attr("fill", "#b4b4b4");
svg.append("rect").attr("x", 0).attr("y", 974.5).attr("width", 1919).attr("height", 1.5).attr("fill", "#b4b4b4");
</script>
</body>
</html>
